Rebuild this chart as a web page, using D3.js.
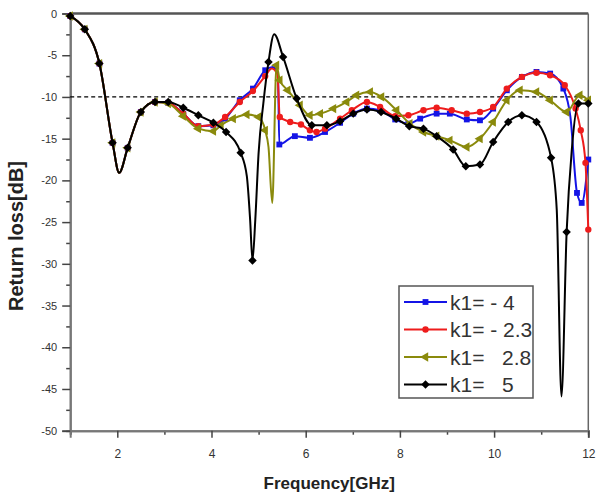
<!DOCTYPE html>
<html lang="en">
<head>
<meta charset="UTF-8">
<title>Return loss</title>
<script src="https://cdn.jsdelivr.net/npm/d3@7"></script>
<style>
    body { margin: 0; background: #fff; }
    svg text { font-family: "Liberation Sans", Arial, sans-serif; }
    .tick text { fill: #333; }
    .legend text { white-space: pre; fill: #333; }
</style>
</head>
<body>
<div id="chart"></div>
<script>
// k1 = -4
var freqA  = [1.0,1.31,1.62,1.9,2.04,2.22,2.5,2.8,3.08,3.4,3.72,4.04,4.29,4.6,4.88,5.14,5.3,5.41,5.44,5.77,6.09,6.41,6.73,7.01,7.3,7.58,7.9,8.18,8.43,8.78,9.06,9.42,9.7,9.98,10.27,10.59,10.9,11.19,11.47,11.62,11.76,11.86,12.0];
var lossA  = [-0.3,-1.9,-6.0,-15.5,-19.1,-16.1,-11.8,-10.6,-10.7,-12.0,-13.5,-13.4,-12.6,-10.4,-9.0,-6.8,-6.4,-7.2,-15.7,-14.7,-14.9,-14.2,-13.1,-12.0,-11.4,-11.6,-12.7,-13.2,-12.6,-12.0,-12.0,-12.7,-12.8,-11.4,-9.2,-7.6,-7.0,-7.2,-9.0,-12.4,-21.5,-22.7,-17.5];
var plainA = [2.04,5.3,5.41,11.62];

// k1 = -2.3
var freqB  = [1.0,1.31,1.62,1.9,2.04,2.22,2.5,2.8,3.08,3.4,3.72,4.04,4.29,4.6,4.88,5.14,5.28,5.4,5.45,5.67,5.9,6.09,6.23,6.41,6.73,6.98,7.3,7.58,7.9,8.18,8.5,8.78,9.1,9.42,9.7,9.98,10.27,10.59,10.9,11.19,11.5,11.73,11.84,11.94,12.0];
var lossB  = [-0.3,-1.9,-6.0,-15.5,-19.1,-16.1,-11.8,-10.6,-10.7,-12.0,-13.5,-13.3,-12.4,-10.6,-9.3,-7.5,-6.6,-7.3,-12.4,-13.0,-13.3,-14.0,-14.2,-13.8,-12.6,-11.6,-10.6,-11.2,-12.3,-12.2,-11.6,-11.3,-11.6,-12.0,-11.8,-11.2,-9.0,-7.6,-7.1,-7.4,-8.6,-11.4,-14.0,-17.9,-25.9];
var plainB = [2.04,5.28,5.4];

// k1 = 2.8
var freqC  = [1.0,1.31,1.62,1.9,2.04,2.22,2.5,2.8,3.08,3.4,3.72,4.04,4.2,4.46,4.75,5.0,5.14,5.21,5.29,5.38,5.45,5.62,5.88,6.09,6.31,6.59,6.87,7.08,7.37,7.61,7.93,8.21,8.5,8.78,9.06,9.42,9.7,9.98,10.27,10.55,10.9,11.19,11.54,11.82,12.0];
var lossC  = [-0.3,-1.9,-6.0,-15.5,-19.1,-16.1,-11.8,-10.6,-10.8,-12.3,-13.8,-14.1,-13.4,-12.6,-12.1,-12.4,-14.0,-16.0,-22.7,-6.2,-8.0,-9.2,-11.0,-12.2,-12.0,-11.4,-10.6,-9.8,-9.4,-10.0,-11.6,-13.2,-14.2,-14.7,-15.2,-16.0,-15.0,-13.0,-10.4,-9.2,-9.4,-10.4,-11.8,-9.8,-10.4];
var plainC = [2.04,5.21,5.29];

// k1 = 5
var freqD  = [1.0,1.31,1.62,1.9,2.04,2.22,2.5,2.8,3.08,3.4,3.72,4.04,4.31,4.62,4.75,4.82,4.87,4.93,5.0,5.1,5.21,5.33,5.52,5.81,6.13,6.45,6.73,7.01,7.3,7.6,7.92,8.2,8.5,8.78,9.13,9.4,9.7,9.98,10.3,10.59,10.9,11.21,11.33,11.43,11.54,11.65,11.79,12.0];
var lossD  = [-0.3,-1.9,-6.0,-15.5,-19.1,-16.1,-11.8,-10.6,-10.6,-11.3,-12.2,-13.1,-14.2,-16.7,-19.5,-24.7,-29.6,-24.7,-16.7,-10.8,-5.8,-2.5,-5.2,-10.2,-13.4,-13.4,-12.9,-12.0,-11.5,-11.8,-12.6,-13.5,-13.8,-14.7,-16.3,-18.3,-18.1,-15.4,-13.0,-12.2,-13.0,-17.3,-23.5,-45.9,-26.2,-16.3,-10.8,-10.8];
var plainD = [2.04,4.75,4.82,4.93,5.0,5.1,5.33,11.33,11.43,11.65];

var legendLabels = ['k1= - 4', 'k1= - 2.3', 'k1=   2.8', 'k1=   5'];
var xMajor = [2, 4, 6, 8, 10, 12];
var xMinor = [1, 3, 5, 7, 9, 11];
var yMajor = [0, -5, -10, -15, -20, -25, -30, -35, -40, -45, -50];
var yMinor = [-2.5, -7.5, -12.5, -17.5, -22.5, -27.5, -32.5, -37.5, -42.5, -47.5];
var threshold = -10;

var colors  = ['#1414e6', '#ee1c1c', '#8a8a0c', '#000000'];
var symbols = ['square', 'circle', 'triangle', 'diamond'];

function makeSeries(f, v, plain) {
    return f.map(function(d, i) {
        return { f: d, v: v[i], mark: plain.indexOf(d) < 0 };
    });
}

var series = [
    makeSeries(freqA, lossA, plainA),
    makeSeries(freqB, lossB, plainB),
    makeSeries(freqC, lossC, plainC),
    makeSeries(freqD, lossD, plainD)
];

var W = 601, H = 492;
var margin = { top: 13.5, right: 12.7, bottom: 61.3, left: 70.2 };
var width = W - margin.left - margin.right,
    height = H - margin.top - margin.bottom;

var svg = d3.select('#chart').append('svg')
    .attr('width', W)
    .attr('height', H);

var g = svg.append('g')
    .attr('transform', 'translate(' + margin.left + ',' + margin.top + ')');

var x = d3.scaleLinear().domain([1, 12]).range([0, width]);
var y = d3.scaleLinear().domain([-50, 0]).range([height, 0]);

function symbolPath(kind) {
    if (kind === 'square')   return d3.symbol().type(d3.symbolSquare).size(34)();
    if (kind === 'circle')   return d3.symbol().type(d3.symbolCircle).size(32)();
    if (kind === 'triangle') return d3.symbol().type(d3.symbolTriangle).size(38)();
    return d3.symbol().type(d3.symbolSquare).size(36)();
}
function symbolRotate(kind) {
    if (kind === 'triangle') return ' rotate(-90)';
    if (kind === 'diamond')  return ' rotate(45)';
    return '';
}

// frame: top + right
g.append('line').attr('x1', 0).attr('x2', width).attr('y1', 0).attr('y2', 0)
    .attr('stroke', '#555').attr('stroke-width', 2.5);
g.append('line').attr('x1', width).attr('x2', width).attr('y1', 0).attr('y2', height)
    .attr('stroke', '#666').attr('stroke-width', 1.5);

// axes
var xMinorAxis = g.append('g').attr('transform', 'translate(0,' + height + ')')
    .call(d3.axisBottom(x).tickValues(xMinor).tickSize(4).tickFormat(''));
var xAxis = g.append('g').attr('transform', 'translate(0,' + height + ')')
    .call(d3.axisBottom(x).tickValues(xMajor).tickSize(7).tickPadding(12)
        .tickFormat(function(d) { return String(d); }));
xAxis.selectAll('text').attr('font-size', 12);

var yMinorAxis = g.append('g')
    .call(d3.axisLeft(y).tickValues(yMinor).tickSize(4).tickFormat(''));
var yAxis = g.append('g')
    .call(d3.axisLeft(y).tickValues(yMajor).tickSize(8).tickPadding(5)
        .tickFormat(function(d) { return String(d); }));
yAxis.selectAll('text').attr('font-size', 11);

[xMinorAxis, xAxis, yMinorAxis, yAxis].forEach(function(a) {
    a.select('.domain').attr('stroke', '#777').attr('stroke-width', 2);
    a.selectAll('.tick line').attr('stroke', '#444').attr('stroke-width', 1.5);
});

// -10 dB reference line
g.append('line')
    .attr('x1', 0).attr('x2', width)
    .attr('y1', y(threshold)).attr('y2', y(threshold))
    .attr('stroke', '#000').attr('stroke-width', 1.2)
    .attr('stroke-dasharray', '4,3');

var line = d3.line()
    .x(function(d) { return x(d.f); })
    .y(function(d) { return y(d.v); })
    .curve(d3.curveMonotoneX);

series.forEach(function(s, i) {
    var sg = g.append('g');
    sg.append('path').datum(s)
        .attr('d', line)
        .attr('fill', 'none')
        .attr('stroke', colors[i])
        .attr('stroke-width', 2);
    sg.selectAll('path.mk').data(s.filter(function(d) { return d.mark; }))
        .enter().append('path')
        .attr('class', 'mk')
        .attr('d', symbolPath(symbols[i]))
        .attr('transform', function(d) {
            return 'translate(' + x(d.f) + ',' + y(d.v) + ')' + symbolRotate(symbols[i]);
        })
        .attr('fill', colors[i]);
});

// legend
var legend = svg.append('g').attr('class', 'legend').attr('transform', 'translate(399,286)');
legend.append('rect').attr('width', 134).attr('height', 112)
    .attr('fill', '#fff').attr('stroke', '#555').attr('stroke-width', 1.5);
legendLabels.forEach(function(label, i) {
    var ly = 16 + i * 27.5;
    var row = legend.append('g').attr('transform', 'translate(0,' + ly + ')');
    row.append('line').attr('x1', 5).attr('x2', 48)
        .attr('stroke', colors[i]).attr('stroke-width', 2);
    row.append('path')
        .attr('d', symbolPath(symbols[i]))
        .attr('transform', 'translate(26.5,0)' + symbolRotate(symbols[i]))
        .attr('fill', colors[i]);
    row.append('text').attr('x', 51).attr('y', 7.5)
        .attr('font-size', 21)
        .text(label);
});

// axis titles
svg.append('text')
    .attr('x', margin.left + width / 2 + 0)
    .attr('y', 489)
    .attr('text-anchor', 'middle')
    .attr('font-size', 17)
    .attr('font-weight', 'bold')
    .attr('fill', '#222')
    .text('Frequency[GHz]');

svg.append('text')
    .attr('transform', 'translate(23,236) rotate(-90)')
    .attr('text-anchor', 'middle')
    .attr('font-size', 20)
    .attr('font-weight', 'bold')
    .attr('fill', '#222')
    .text('Return loss[dB]');
</script>
</body>
</html>
